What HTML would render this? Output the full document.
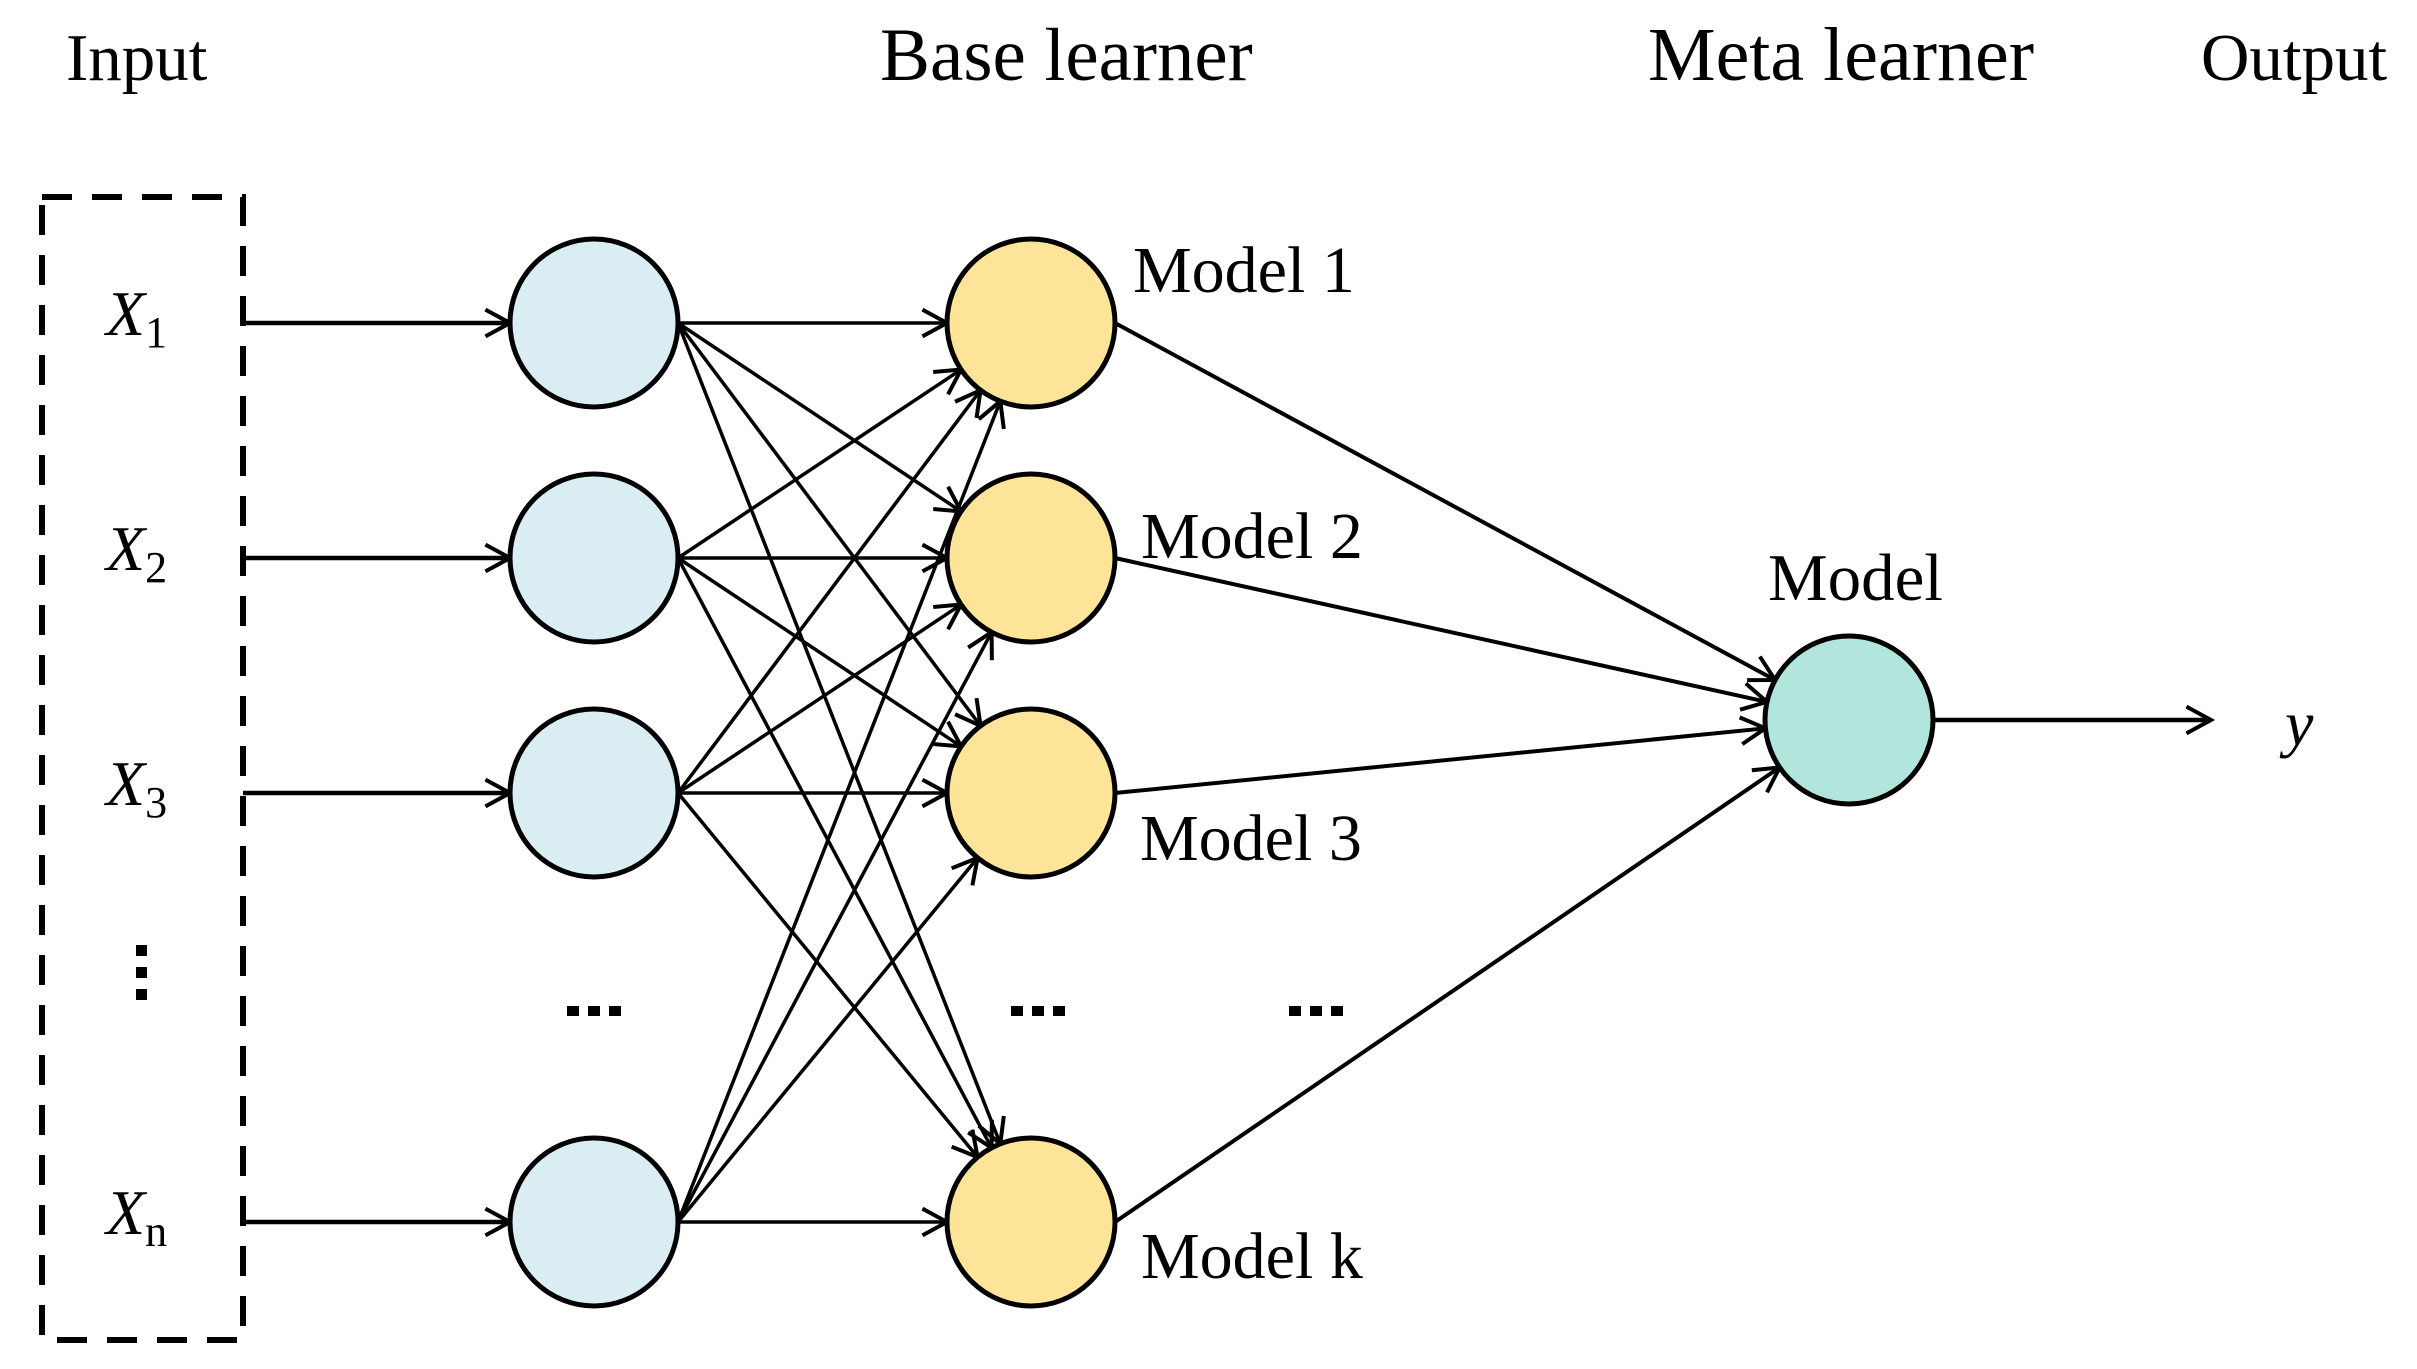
<!DOCTYPE html>
<html><head><meta charset="utf-8"><style>
html,body{margin:0;padding:0;background:#fff}
svg{display:block}
text{font-family:"Liberation Serif",serif;fill:#000}
</style></head><body>
<svg id="s" width="2417" height="1369" viewBox="0 0 2417 1369" xmlns="http://www.w3.org/2000/svg">
<rect x="42" y="197" width="201" height="1143" fill="none" stroke="#000" stroke-width="6" stroke-dasharray="30,20"/>
<text x="66" y="80" font-size="67">Input</text>
<text x="880" y="80" font-size="75">Base learner</text>
<text x="1648" y="80" font-size="76">Meta learner</text>
<text x="2201" y="80" font-size="67">Output</text>
<text x="106" y="335" font-size="64" font-style="italic">X<tspan font-size="44" font-style="normal" dy="12">1</tspan></text>
<text x="106" y="570" font-size="64" font-style="italic">X<tspan font-size="44" font-style="normal" dy="12">2</tspan></text>
<text x="106" y="805" font-size="64" font-style="italic">X<tspan font-size="44" font-style="normal" dy="12">3</tspan></text>
<text x="106" y="1234" font-size="64" font-style="italic">X<tspan font-size="44" font-style="normal" dy="12">n</tspan></text>
<rect x="136" y="945" width="11" height="11"/><rect x="136" y="967" width="11" height="11"/><rect x="136" y="989" width="11" height="11"/>
<g id="e" stroke="#000" fill="none" stroke-width="3"></g>
<g id="n" stroke="#000" stroke-width="5"></g>
<text x="1133" y="292" font-size="66">Model 1</text>
<text x="1141" y="558" font-size="66">Model 2</text>
<text x="1140" y="860" font-size="66">Model 3</text>
<text x="1141" y="1278" font-size="66">Model k</text>
<text x="1768" y="600" font-size="67">Model</text>
<text x="2285" y="745" font-size="64" font-style="italic">y</text>
<g fill="#000">
<rect x="567" y="1006" width="12" height="10"/><rect x="588" y="1006" width="12" height="10"/><rect x="609" y="1006" width="12" height="10"/>
<rect x="1011" y="1006" width="12" height="10"/><rect x="1032" y="1006" width="12" height="10"/><rect x="1053" y="1006" width="12" height="10"/>
<rect x="1289" y="1006" width="12" height="10"/><rect x="1310" y="1006" width="12" height="10"/><rect x="1331" y="1006" width="12" height="10"/>
</g>
</svg>
<script>
var NS="http://www.w3.org/2000/svg",e=document.getElementById('e'),n=document.getElementById('n');
var ys=[323,558,793,1222],R=84,bx=594,ox=1031,tx=1849,ty=720;
function line(x1,y1,x2,y2,arrow,w){
 var l=document.createElementNS(NS,'line');l.setAttribute('x1',x1);l.setAttribute('y1',y1);l.setAttribute('x2',x2);l.setAttribute('y2',y2);
 if(w)l.setAttribute('stroke-width',w);e.appendChild(l);
 if(arrow){var a=Math.atan2(y2-y1,x2-x1),L=28,s=0.5;
  var p=document.createElementNS(NS,'polyline');
  p.setAttribute('points',(x2-L*Math.cos(a-s))+','+(y2-L*Math.sin(a-s))+' '+x2+','+y2+' '+(x2-L*Math.cos(a+s))+','+(y2-L*Math.sin(a+s)));
  p.setAttribute('stroke-width',4);e.appendChild(p);}
}
function toCircle(x1,y1,cx,cy){var dx=cx-x1,dy=cy-y1,d=Math.hypot(dx,dy);return [cx-dx/d*R,cy-dy/d*R];}
ys.forEach(function(y){line(243,y,bx-R,y,true,4.5);});
ys.forEach(function(y1){ys.forEach(function(y2){var sx=bx+R,sy=y1;var p=toCircle(sx,sy,ox,y2);line(sx,sy,p[0],p[1],true,3.5);});});
ys.forEach(function(y){var sx=ox+R,sy=y;var p=toCircle(sx,sy,tx,ty);line(sx,sy,p[0],p[1],true,4);});
line(tx+R,ty,2211,ty,true,4.5);
function circ(x,y,f){var c=document.createElementNS(NS,'circle');c.setAttribute('cx',x);c.setAttribute('cy',y);c.setAttribute('r',R);c.setAttribute('fill',f);n.appendChild(c);}
ys.forEach(function(y){circ(bx,y,'#daedf2');circ(ox,y,'#fde499');});
circ(tx,ty,'#b2e6dd');
</script>
</body></html>
